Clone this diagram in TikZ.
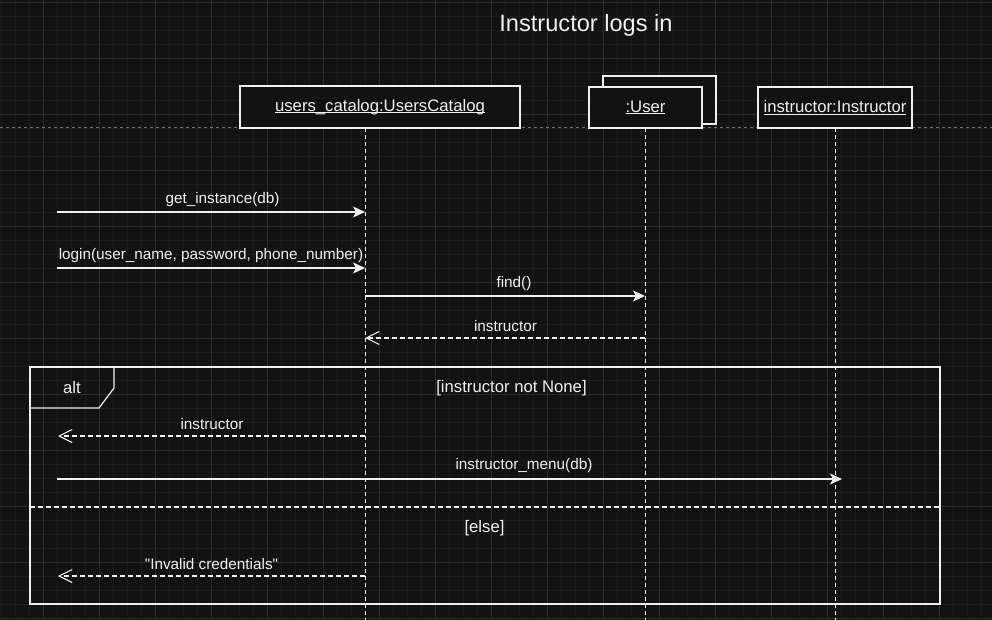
\documentclass[tikz,border=0pt]{standalone}
\usepackage{fontspec}
\setmainfont{Liberation Sans}
\newfontfamily\plainq{Liberation Sans}
\usetikzlibrary{arrows.meta}
\definecolor{bg}{HTML}{121212}
\definecolor{gmin}{HTML}{1B1B1B}
\definecolor{gmaj}{HTML}{2B2B2B}
\definecolor{fg}{HTML}{F0F0F0}
\definecolor{pgline}{HTML}{707070}
\newcommand\ulx[1]{\setbox0\hbox{#1}\rlap{\rule[-2pt]{\wd0}{1pt}}\box0}
\begin{document}
\begin{tikzpicture}[x=1pt,y=-1pt,
  objbox/.style={draw=fg, fill=bg, line width=1.2pt, inner sep=0pt, text=fg, font=\fontsize{16.7}{20}\selectfont},
  lbl/.style={text=fg, inner sep=0pt, font=\fontsize{15.3}{18}\selectfont},
  glbl/.style={text=fg, inner sep=0pt, font=\fontsize{16.7}{20}\selectfont},
  life/.style={draw=fg, line width=1pt, dash pattern=on 4pt off 3pt},
  sync/.style={draw=fg, line width=1.2pt, -{Stealth[length=12pt,width=11pt,inset=3pt]}},
  ret/.style={draw=fg, line width=1.1pt, dash pattern=on 5pt off 3pt, -{Straight Barb[length=13pt,width=13pt,line width=1.1pt]}},
  frame/.style={draw=fg, line width=1.2pt}
]
\useasboundingbox (0,0) rectangle (992,620);
\fill[bg] (0,0) rectangle (992,620);
% grid
\foreach \i in {0,...,70} {\draw[gmin, line width=0.8pt] ({1.3+14*\i},0) -- ({1.3+14*\i},620);}
\foreach \j in {0,...,44} {\draw[gmin, line width=0.8pt] (0,{2.3+14*\j}) -- (992,{2.3+14*\j});}
\foreach \i in {0,...,17} {\draw[gmaj, line width=0.9pt] ({43.3+56*\i},0) -- ({43.3+56*\i},620);}
\foreach \j in {0,...,11} {\draw[gmaj, line width=0.9pt] (0,{2.3+56*\j}) -- (992,{2.3+56*\j});}
% page line
\coordinate (pl1) at (0,127.3);
\coordinate (pl2) at (992,127.3);
\draw[pgline, line width=0.8pt, dash pattern=on 3pt off 3pt] (pl1) -- (pl2);

% title
\node[text=fg, inner sep=0pt, font=\fontsize{23.6}{28}\selectfont] (title) at (586,25.5) {Instructor logs in};

% lifelines
\coordinate (l1t) at (365,128); \coordinate (l1b) at (365,620);
\coordinate (l2t) at (645,128); \coordinate (l2b) at (645,620);
\coordinate (l3t) at (835,128); \coordinate (l3b) at (835,620);
\draw[life] (l1t) -- (l1b);
\draw[life] (l2t) -- (l2b);
\draw[life] (l3t) -- (l3b);

% objects
\node[objbox, minimum width=280pt, minimum height=42pt] (uc) at (380,107) {\ulx{users\_catalog:UsersCatalog}};
\node[objbox, minimum width=113pt, minimum height=48pt] (uback) at (659.5,100) {};
\node[objbox, minimum width=113pt, minimum height=41pt] (user) at (645.5,107.5) {\ulx{:User}};
\node[objbox, minimum width=154pt, minimum height=41pt] (ins) at (835,107.5) {\ulx{instructor:Instructor}};

% alt frame
\coordinate (fa) at (30,367); \coordinate (fb) at (940,604);
\draw[frame] (fa) rectangle (fb);
\coordinate (t1) at (30,408); \coordinate (t2) at (99,408); \coordinate (t3) at (114,388); \coordinate (t4) at (114,367);
\draw[frame] (t1) -- (t2) -- (t3) -- (t4);
\node[glbl] (alt) at (72,388) {alt};
\node[glbl] (g1) at (511.5,388) {[instructor not None]};
\coordinate (s1) at (30,507); \coordinate (s2) at (940,507);
\draw[draw=fg, line width=1.1pt, dash pattern=on 5pt off 3pt] (s1) -- (s2);
\node[glbl] (g2) at (484.5,528) {[else]};

% messages
\coordinate (m1a) at (57,212); \coordinate (m1b) at (365,212);
\draw[sync] (m1a) -- (m1b);
\node[lbl] (m1l) at (222.5,200) {get\_instance(db)};

\coordinate (m2a) at (57,268); \coordinate (m2b) at (365,268);
\draw[sync] (m2a) -- (m2b);
\node[lbl] (m2l) at (211,256) {login(user\_name, password, phone\_number)};

\coordinate (m3a) at (365,296); \coordinate (m3b) at (645,296);
\draw[sync] (m3a) -- (m3b);
\node[lbl] (m3l) at (514,284) {find()};

\coordinate (m4a) at (645,338); \coordinate (m4b) at (365,338);
\draw[ret] (m4a) -- (m4b);
\node[lbl] (m4l) at (505.5,326.5) {instructor};

\coordinate (m5a) at (365,436); \coordinate (m5b) at (58,436);
\draw[ret] (m5a) -- (m5b);
\node[lbl] (m5l) at (212,424.5) {instructor};

\coordinate (m6a) at (57,479); \coordinate (m6b) at (842,479);
\draw[sync] (m6a) -- (m6b);
\node[lbl] (m6l) at (524,466) {instructor\_menu(db)};

\coordinate (m7a) at (365,576); \coordinate (m7b) at (58,576);
\draw[ret] (m7a) -- (m7b);
\node[lbl] (m7l) at (211.5,564.5) {\plainq "Invalid credentials"};
\end{tikzpicture}
\end{document}
